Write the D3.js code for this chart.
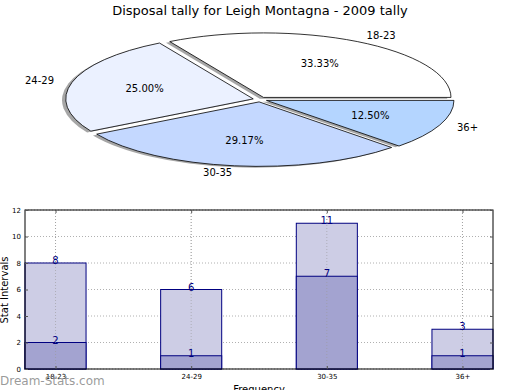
<!DOCTYPE html>
<html>
<head>
<meta charset="utf-8">
<script src="https://cdn.jsdelivr.net/npm/d3@7"></script>
<style>
  body { margin: 0; background: #fff; }
  svg { display: block; font-family: "DejaVu Sans", sans-serif; }
</style>
</head>
<body>
<div id="vis"></div>
<script>
// age groups, disposals in each group, and the sub-count drawn darker in the bars
const groups = ["18-23", "24-29", "30-35", "36+"];
const totals = [8, 6, 11, 3];
const lower = [2, 1, 7, 1];
const pieCounts = [8, 6, 7, 3];
const pieColors = ["#ffffff", "#ebf1ff", "#c4d8ff", "#b4d5ff"];
const yTicks = [0, 2, 4, 6, 8, 10, 12];

const width = 520, height = 390;
const svg = d3.select("#vis").append("svg").attr("width", width).attr("height", height);

svg.append("text").attr("x", 260).attr("y", 15).attr("text-anchor", "middle")
    .style("font-size", "13px").text("Disposal tally for Leigh Montagna - 2009 tally");

// ---- pie (squashed into an ellipse, matplotlib style) ----
const cx = 260, cy = 99.5, rx = 187.5, ry = 64.5;
const explode = 0.0373;
const total = d3.sum(pieCounts);
// start at 3 o'clock and go counter-clockwise
const arcs = d3.pie().sort(null).startAngle(Math.PI / 2).endAngle(Math.PI / 2 - 2 * Math.PI)(pieCounts);
const unitArc = d3.arc().innerRadius(0).outerRadius(1);
const mid = d => Math.PI / 2 - (d.startAngle + d.endAngle) / 2; // math angle

const pieG = svg.append("g").attr("class", "pie");
const off = d => [explode * rx * Math.cos(mid(d)), -explode * ry * Math.sin(mid(d))];

pieG.selectAll("path.shadow").data(arcs).enter().append("path")
    .attr("class", "shadow")
    .attr("d", unitArc)
    .attr("transform", d => `translate(${cx + off(d)[0] - 0.02 * rx}, ${cy + off(d)[1] + 0.02 * ry}) scale(${rx}, ${ry})`)
    .attr("fill", "#4d4d4d").attr("fill-opacity", 0.5);

pieG.selectAll("path.wedge").data(arcs).enter().append("path")
    .attr("class", "wedge")
    .attr("d", unitArc)
    .attr("transform", d => `translate(${cx + off(d)[0]}, ${cy + off(d)[1]}) scale(${rx}, ${ry})`)
    .attr("fill", (d, i) => pieColors[i])
    .attr("stroke", "#000").attr("stroke-width", 0.8)
    .attr("vector-effect", "non-scaling-stroke");

pieG.selectAll("text.pct").data(arcs).enter().append("text")
    .attr("class", "pct")
    .attr("x", d => cx + off(d)[0] + 0.6 * rx * Math.cos(mid(d)))
    .attr("y", d => cy + off(d)[1] - 0.6 * ry * Math.sin(mid(d)))
    .attr("dy", "0.35em").attr("text-anchor", "middle")
    .style("font-size", "10px")
    .text(d => (100 * d.value / total).toFixed(2) + "%");

pieG.selectAll("text.lbl").data(arcs).enter().append("text")
    .attr("class", "lbl")
    .attr("x", d => cx + off(d)[0] + 1.1 * rx * Math.cos(mid(d)))
    .attr("y", d => cy + off(d)[1] - 1.1 * ry * Math.sin(mid(d)))
    .attr("dy", "0.35em")
    .attr("text-anchor", d => Math.cos(mid(d)) > 0 ? "start" : "end")
    .style("font-size", "10px")
    .text((d, i) => groups[i]);

// ---- stacked-looking bar chart ----
const plot = {left: 25, right: 493, top: 210, bottom: 369};
const x = d3.scalePoint().domain(groups).range([plot.left, plot.right]).padding(0.225);
const y = d3.scaleLinear().domain([0, 12]).range([plot.bottom, plot.top]);
const barW = 0.45 * x.step();

const chart = svg.append("g").attr("class", "bars");

// grid
chart.selectAll("line.gy").data(yTicks).enter().append("line")
    .attr("x1", plot.left).attr("x2", plot.right)
    .attr("y1", d => y(d)).attr("y2", d => y(d))
    .attr("stroke", "#b0b0b0").attr("stroke-dasharray", "1,2");
chart.selectAll("line.gx").data(groups).enter().append("line")
    .attr("x1", d => x(d)).attr("x2", d => x(d))
    .attr("y1", plot.top).attr("y2", plot.bottom)
    .attr("stroke", "#b0b0b0").attr("stroke-dasharray", "1,2");

chart.selectAll("rect.tot").data(totals).enter().append("rect")
    .attr("x", (d, i) => x(groups[i]) - barW / 2).attr("width", barW)
    .attr("y", d => y(d)).attr("height", d => y(0) - y(d))
    .attr("fill", "#cdcde5").attr("stroke", "#000080").attr("stroke-width", 1);
chart.selectAll("rect.low").data(lower).enter().append("rect")
    .attr("x", (d, i) => x(groups[i]) - barW / 2).attr("width", barW)
    .attr("y", d => y(d)).attr("height", d => y(0) - y(d))
    .attr("fill", "#a3a3d0").attr("stroke", "#000080").attr("stroke-width", 1);

// redraw the vertical grid over the bars like in the original
chart.selectAll("line.gx2").data(groups).enter().append("line")
    .attr("x1", d => x(d)).attr("x2", d => x(d))
    .attr("y1", plot.top).attr("y2", plot.bottom)
    .attr("stroke", "#999").attr("stroke-opacity", 0.6).attr("stroke-dasharray", "1,2");

chart.selectAll("text.vt").data(totals).enter().append("text")
    .attr("x", (d, i) => x(groups[i])).attr("y", d => y(d) + 1)
    .attr("text-anchor", "middle").attr("fill", "#000080").style("font-size", "10px")
    .text(d => d);
chart.selectAll("text.vl").data(lower).enter().append("text")
    .attr("x", (d, i) => x(groups[i])).attr("y", d => y(d) + 1)
    .attr("text-anchor", "middle").attr("fill", "#000080").style("font-size", "10px")
    .text(d => d);

// frame + inward ticks
chart.append("rect").attr("x", plot.left).attr("y", plot.top)
    .attr("width", plot.right - plot.left).attr("height", plot.bottom - plot.top)
    .attr("fill", "none").attr("stroke", "#000").attr("stroke-width", 1);

const yAxisL = d3.axisLeft(y).tickValues(yTicks).tickSizeInner(-3).tickSizeOuter(0).tickPadding(4);
const yAxisR = d3.axisRight(y).tickValues(yTicks).tickSizeInner(-3).tickSizeOuter(0).tickFormat("");
const xAxisB = d3.axisBottom(x).tickSizeInner(-3).tickSizeOuter(0).tickPadding(5);
const xAxisT = d3.axisTop(x).tickSizeInner(-3).tickSizeOuter(0).tickFormat("");

[[yAxisL, `translate(${plot.left},0)`], [yAxisR, `translate(${plot.right},0)`],
 [xAxisB, `translate(0,${plot.bottom})`], [xAxisT, `translate(0,${plot.top})`]].forEach(([ax, tr]) => {
    const g = chart.append("g").attr("transform", tr).call(ax);
    g.select(".domain").remove();
    g.selectAll("line").attr("stroke", "#555");
    g.selectAll("text").style("font-size", "7px").style("font-family", "DejaVu Sans, sans-serif").attr("fill", "#000");
});

svg.append("text").attr("transform", "translate(8, 290) rotate(-90)")
    .attr("text-anchor", "middle").style("font-size", "10px").text("Stat Intervals");
svg.append("text").attr("x", 259).attr("y", 393)
    .attr("text-anchor", "middle").style("font-size", "10px").text("Frequency");

svg.append("text").attr("x", 0).attr("y", 385)
    .style("font-size", "12px").attr("fill", "#888").attr("fill-opacity", 0.85)
    .text("Dream-Stats.com");
</script>
</body>
</html>
